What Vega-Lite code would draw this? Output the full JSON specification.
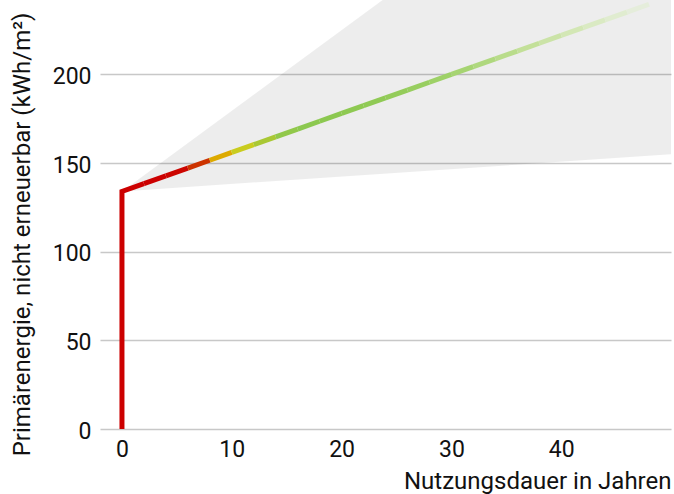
{
  "$schema": "https://vega.github.io/schema/vega-lite/v6.json",
  "width": 571,
  "height": 429,
  "autosize": {"type": "none"},
  "padding": {"left": 100, "top": 0, "right": 3, "bottom": 65},
  "background": "white",
  "config": {
    "view": {"stroke": null},
    "font": "Roboto",
    "axis": {
      "labelFont": "Roboto",
      "titleFont": "Roboto",
      "labelFontSize": 23,
      "titleFontSize": 24,
      "titleFontWeight": "normal",
      "labelColor": "#111111",
      "titleColor": "#111111",
      "domain": false,
      "ticks": false
    }
  },
  "datasets": {
    "fan": [
      {"jahr": 0, "unten": 134, "oben": 134},
      {"jahr": 50, "unten": 155, "oben": 361.5}
    ],
    "start": [
      {"jahr": 0, "wert": 0},
      {"jahr": 0, "wert": 134},
      {"jahr": 2, "wert": 138.4}
    ],
    "segmente": [
      {"seg": 2, "von": 2, "bis": 4, "w1": 138.4, "w2": 142.8},
      {"seg": 3, "von": 4, "bis": 6, "w1": 142.8, "w2": 147.2},
      {"seg": 4, "von": 6, "bis": 8, "w1": 147.2, "w2": 151.6},
      {"seg": 5, "von": 8, "bis": 10, "w1": 151.6, "w2": 156},
      {"seg": 6, "von": 10, "bis": 12, "w1": 156, "w2": 160.4},
      {"seg": 7, "von": 12, "bis": 14, "w1": 160.4, "w2": 164.8},
      {"seg": 8, "von": 14, "bis": 16, "w1": 164.8, "w2": 169.2},
      {"seg": 9, "von": 16, "bis": 18, "w1": 169.2, "w2": 173.6},
      {"seg": 10, "von": 18, "bis": 20, "w1": 173.6, "w2": 178},
      {"seg": 11, "von": 20, "bis": 22, "w1": 178, "w2": 182.4},
      {"seg": 12, "von": 22, "bis": 24, "w1": 182.4, "w2": 186.8},
      {"seg": 13, "von": 24, "bis": 26, "w1": 186.8, "w2": 191.2},
      {"seg": 14, "von": 26, "bis": 28, "w1": 191.2, "w2": 195.6},
      {"seg": 15, "von": 28, "bis": 30, "w1": 195.6, "w2": 200},
      {"seg": 16, "von": 30, "bis": 32, "w1": 200, "w2": 204.4},
      {"seg": 17, "von": 32, "bis": 34, "w1": 204.4, "w2": 208.8},
      {"seg": 18, "von": 34, "bis": 36, "w1": 208.8, "w2": 213.2},
      {"seg": 19, "von": 36, "bis": 38, "w1": 213.2, "w2": 217.6},
      {"seg": 20, "von": 38, "bis": 40, "w1": 217.6, "w2": 222},
      {"seg": 21, "von": 40, "bis": 42, "w1": 222, "w2": 226.4},
      {"seg": 22, "von": 42, "bis": 44, "w1": 226.4, "w2": 230.8},
      {"seg": 23, "von": 44, "bis": 46, "w1": 230.8, "w2": 235.2},
      {"seg": 24, "von": 46, "bis": 48, "w1": 235.2, "w2": 239.6}
    ]
  },
  "layer": [
    {
      "data": {"name": "fan"},
      "mark": {"type": "area", "color": "#000000", "opacity": 0.07, "clip": true},
      "encoding": {
        "x": {
          "field": "jahr", "type": "quantitative",
          "scale": {"domain": [-2, 50], "nice": false, "zero": false},
          "axis": {
            "values": [0, 10, 20, 30, 40],
            "grid": false,
            "labelPadding": 9,
            "title": "Nutzungsdauer in Jahren",
            "titleAnchor": "end",
            "titleBaseline": "middle",
            "titleY": 52
          }
        },
        "y": {
          "field": "unten", "type": "quantitative",
          "scale": {"domain": [0, 242], "nice": false},
          "axis": {
            "values": [0, 50, 100, 150, 200],
            "grid": true,
            "gridColor": "#c8c8c8",
            "gridWidth": 1.5,
            "labelPadding": 9,
            "labelOffset": 2,
            "title": "Primärenergie, nicht erneuerbar (kWh/m²)",
            "titleX": -78,
            "titleY": 234,
            "titleBaseline": "middle"
          }
        },
        "y2": {"field": "oben"}
      }
    },
    {
      "data": {"name": "start"},
      "mark": {"type": "line", "color": "#cc0000", "strokeWidth": 5, "strokeJoin": "miter", "strokeCap": "butt", "clip": true},
      "encoding": {
        "x": {"field": "jahr", "type": "quantitative"},
        "y": {"field": "wert", "type": "quantitative"},
        "order": {"field": "wert", "type": "quantitative"}
      }
    },
    {
      "data": {"name": "segmente"},
      "mark": {"type": "rule", "strokeWidth": 5, "strokeCap": "butt", "clip": true},
      "encoding": {
        "x": {"field": "von", "type": "quantitative"},
        "x2": {"field": "bis"},
        "y": {"field": "w1", "type": "quantitative"},
        "y2": {"field": "w2"},
        "color": {
          "field": "seg", "type": "ordinal", "legend": null,
          "scale": {
            "domain": [2, 3, 4, 5, 6, 7, 8, 9, 10, 11, 12, 13, 14, 15, 16, 17, 18, 19, 20, 21, 22, 23, 24],
            "range": ["#cc0000", "#cc0500", "#cc3300", "#ddaa00", "#c9cc1f", "#a9c834", "#91c84a", "#8cc850", "#8cc850", "#8ec952", "#90ca55", "#94cc5a", "#98ce60", "#9ed167", "#a6d472", "#afd87e", "#b9dc8b", "#c3e099", "#cbe3a7", "#d3e7b5", "#daeac3", "#e0ecd0", "#e5eddb"]
          }
        }
      }
    }
  ]
}
